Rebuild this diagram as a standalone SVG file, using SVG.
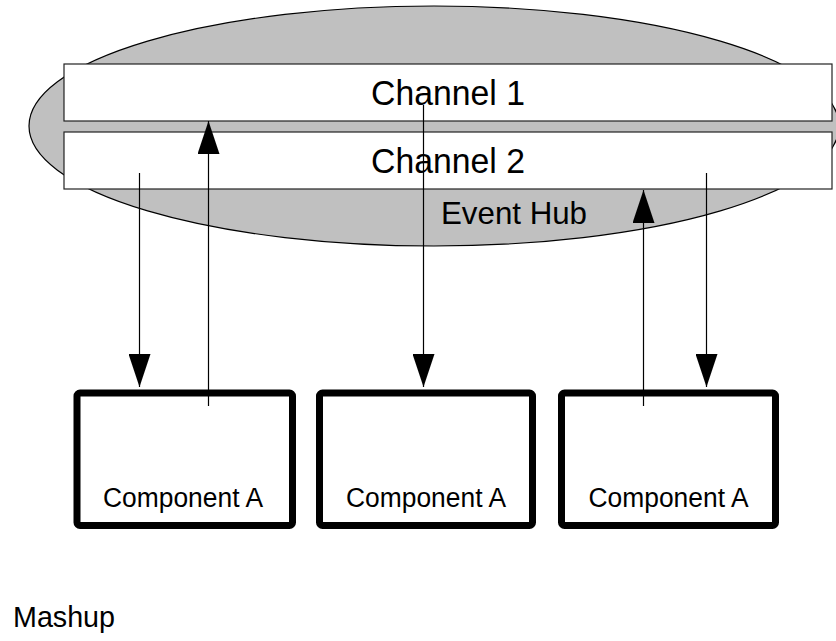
<svg xmlns="http://www.w3.org/2000/svg" width="836" height="641" viewBox="0 0 836 641">
<style>
text{font-family:"Liberation Sans",Arial,sans-serif;fill:#000}
.ch{fill:#fff;stroke:#222;stroke-width:1.2}
.comp{fill:#fff;stroke:#000;stroke-width:7}
.conn{stroke:#000;stroke-width:1.2;fill:none}
</style>
<defs>
<marker id="ah" markerUnits="userSpaceOnUse" markerWidth="33" markerHeight="22" refX="33" refY="11" orient="auto" viewBox="0 0 33 22">
<path d="M0,0 L33,11 L0,22 Z" fill="#000"/>
</marker>
</defs>
<g id="hub">
<ellipse cx="434" cy="126" rx="405" ry="120" fill="#c0c0c0" stroke="#000" stroke-width="1.2"/>
<text x="441" y="224" font-size="32" textLength="146" lengthAdjust="spacingAndGlyphs">Event Hub</text>
</g>
<g id="channel1">
<rect class="ch" x="64" y="64" width="768" height="57"/>
<text x="371" y="105" font-size="35" textLength="154" lengthAdjust="spacingAndGlyphs">Channel 1</text>
</g>
<g id="channel2">
<rect class="ch" x="64" y="132" width="768" height="57"/>
<text x="371" y="173" font-size="35" textLength="154" lengthAdjust="spacingAndGlyphs">Channel 2</text>
</g>
<g id="comp1">
<rect class="comp" x="77" y="393" width="215.5" height="132.5" rx="3"/>
<text x="103" y="507" font-size="27" textLength="160" lengthAdjust="spacingAndGlyphs">Component A</text>
</g>
<g id="comp2">
<rect class="comp" x="319.5" y="393" width="213" height="132.5" rx="3"/>
<text x="346" y="507" font-size="27" textLength="160" lengthAdjust="spacingAndGlyphs">Component A</text>
</g>
<g id="comp3">
<rect class="comp" x="561.5" y="393" width="214" height="132.5" rx="3"/>
<text x="588.5" y="507" font-size="27" textLength="160" lengthAdjust="spacingAndGlyphs">Component A</text>
</g>
<g id="connectors">
<line class="conn" x1="139.5" y1="173" x2="139.5" y2="387" marker-end="url(#ah)"/>
<line class="conn" x1="208.5" y1="406" x2="208.5" y2="121" marker-end="url(#ah)"/>
<line class="conn" x1="423.5" y1="105" x2="423.5" y2="387" marker-end="url(#ah)"/>
<line class="conn" x1="643.5" y1="406" x2="643.5" y2="190" marker-end="url(#ah)"/>
<line class="conn" x1="706.5" y1="173" x2="706.5" y2="387" marker-end="url(#ah)"/>
</g>
<text x="13" y="627" font-size="30" textLength="102" lengthAdjust="spacingAndGlyphs">Mashup</text>
</svg>
